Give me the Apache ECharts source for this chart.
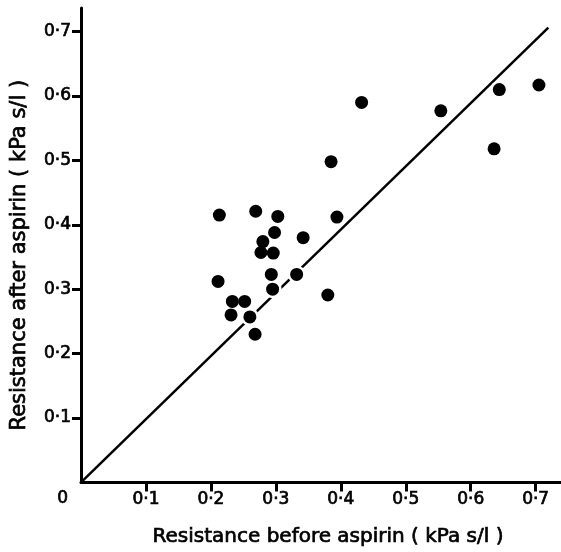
<!DOCTYPE html>
<html>
<head>
<meta charset="utf-8">
<script src="https://cdn.jsdelivr.net/npm/echarts@6/dist/echarts.min.js"></script>
<style>
html,body{margin:0;padding:0;background:#fff;}
#chart{width:561px;height:552px;}
</style>
</head>
<body>
<div id="chart"></div>
<script>
// Data
var beforeAspirin = [0.213, 0.269, 0.303, 0.394, 0.298, 0.342, 0.280, 0.277, 0.296, 0.211, 0.293, 0.332, 0.295, 0.380, 0.233, 0.252, 0.231, 0.260, 0.268, 0.432, 0.554, 0.644, 0.705, 0.636, 0.385];
var afterAspirin  = [0.415, 0.421, 0.413, 0.412, 0.388, 0.380, 0.374, 0.357, 0.356, 0.312, 0.323, 0.323, 0.300, 0.291, 0.281, 0.281, 0.260, 0.257, 0.230, 0.590, 0.577, 0.610, 0.617, 0.518, 0.498];
var lineX = [0.0, 0.7195];
var lineY = [0.0, 0.706];
var tickValues = [0.1, 0.2, 0.3, 0.4, 0.5, 0.6, 0.7];
var xTitle = 'Resistance before aspirin ( kPa s/l )';
var yTitle = 'Resistance after aspirin ( kPa s/l )';
var originLabel = '0';

var points = beforeAspirin.map(function (x, i) { return [x, afterAspirin[i]]; });
var linePts = lineX.map(function (x, i) { return [x, lineY[i]]; });
function fmt(v) { return v.toFixed(1).replace('.', '\u00b7'); }

var font = 'DejaVu Sans';
var heavy = {textBorderColor: '#000', textBorderWidth: 0.7};
var chart = echarts.init(document.getElementById('chart'), null, {renderer: 'canvas'});
chart.setOption({
  animation: false,
  backgroundColor: '#fff',
  grid: {left: 81, right: 0, top: 8, bottom: 69.6, containLabel: false},
  xAxis: {
    type: 'value', min: 0, max: 0.739,
    splitLine: {show: false},
    axisLine: {show: true, onZero: false, lineStyle: {color: '#000', width: 3}},
    axisTick: {show: true, customValues: tickValues, length: 9, lineStyle: {color: '#000', width: 3}},
    axisLabel: Object.assign({customValues: tickValues, formatter: fmt, margin: 9, color: '#000', fontFamily: font, fontSize: 17}, heavy),
    name: xTitle, nameLocation: 'middle', nameGap: 44,
    nameTextStyle: Object.assign({color: '#000', fontFamily: font, fontSize: 20, padding: [0, 0, 0, 14]}, heavy)
  },
  yAxis: {
    type: 'value', min: 0, max: 0.7366,
    splitLine: {show: false},
    axisLine: {show: true, onZero: false, lineStyle: {color: '#000', width: 3}},
    axisTick: {show: true, customValues: tickValues, length: 9, lineStyle: {color: '#000', width: 3}},
    axisLabel: Object.assign({customValues: tickValues, formatter: fmt, margin: 10, color: '#000', fontFamily: font, fontSize: 17}, heavy),
    name: yTitle, nameLocation: 'middle', nameGap: 51,
    nameTextStyle: Object.assign({color: '#000', fontFamily: font, fontSize: 21, padding: [0, 20, 0, 0]}, heavy)
  },
  graphic: [{
    type: 'text', left: 57, top: 490,
    style: {text: originLabel, fill: '#000', stroke: '#000', lineWidth: 0.7, font: '17px "DejaVu Sans"'}
  }],
  series: [
    {
      type: 'line', data: linePts, symbol: 'none', z: 1,
      lineStyle: {color: '#000', width: 2.5}
    },
    {
      type: 'scatter', data: points, symbol: 'circle', symbolSize: 18, z: 2,
      itemStyle: {color: '#fff', opacity: 1}, silent: true
    },
    {
      type: 'scatter', data: points, symbol: 'circle', symbolSize: 13, z: 3,
      itemStyle: {color: '#000', opacity: 1}
    }
  ]
});
</script>
</body>
</html>
